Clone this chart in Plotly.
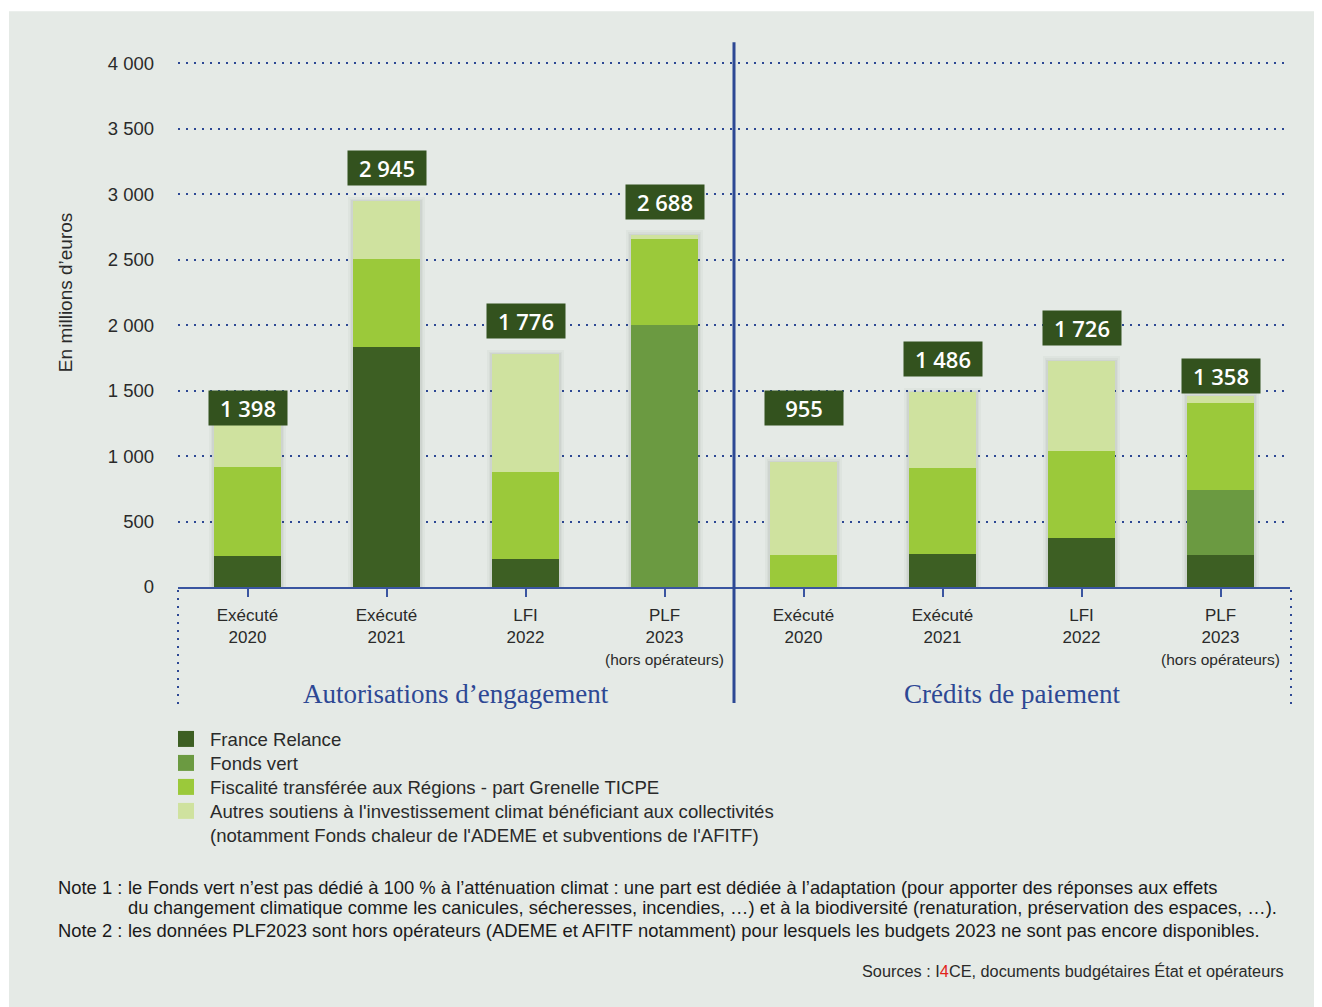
import plotly.graph_objects as go

# the page body adds an 8px margin, so the figure is drawn 8px in from the top-left
OFF = 8
W, H = 1322 - OFF, 1007 - OFF
# plot area in reference pixels
L, R, B = 178, 1290, 587
Y_TOP = 4040
T = B - 524 * Y_TOP / 4000

BG = "#e5eae6"
BLUE = "#2d4894"
TEXT = "#2a2a2a"

groups = ["Autorisations d’engagement", "Crédits de paiement"]
periods = ["Exécuté<br>2020", "Exécuté<br>2021", "LFI<br>2022", "PLF<br>2023<br>(hors opérateurs)"]

series_names = [
    "France Relance",
    "Fonds vert",
    "Fiscalité transférée aux Régions - part Grenelle TICPE",
    "Autres soutiens à l'investissement climat bénéficiant aux collectivités<br>"
    "(notamment Fonds chaleur de l'ADEME et subventions de l'AFITF)",
]
series_colors = ["#3d5f23", "#6b9a41", "#9bc93a", "#cfe29f"]

# values in millions of euros, AE x4 then CP x4
france_relance = [236, 1832, 211, 0, 0, 254, 378, 246]
fonds_vert = [0, 0, 0, 2000, 0, 0, 0, 495]
fiscalite = [683, 670, 670, 660, 246, 655, 660, 662]
autres = [479, 443, 895, 28, 709, 577, 688, 55]
totals = [1398, 2945, 1776, 2688, 955, 1486, 1726, 1358]

notes = [
    ("Note 1 :", ["le Fonds vert n’est pas dédié à 100 % à l’atténuation climat : une part est dédiée à "
                  "l’adaptation (pour apporter des réponses aux effets",
                  "du changement climatique comme les canicules, sécheresses, incendies, …) et à la "
                  "biodiversité (renaturation, préservation des espaces, …)."]),
    ("Note 2 :", ["les données PLF2023 sont hors opérateurs (ADEME et AFITF notamment) pour lesquels "
                  "les budgets 2023 ne sont pas encore disponibles."]),
]


def fx(px):
    return (px - L) / (R - L)


def fy(py):
    return (B - py) / (B - T)


x_pos = list(range(len(totals)))
ticktext = [p.replace("(hors opérateurs)", "<span style='font-size:15.5px'>(hors opérateurs)</span>")
            for p in periods * len(groups)]
segments = [france_relance, fonds_vert, fiscalite, autres]
stack_tops = [sum(v) for v in zip(*segments)]

fig = go.Figure()
# soft shadow behind each stack (base set -> overlaid, not stacked)
for w, extra, a in [(0.56, 35, 0.03), (0.53, 22, 0.04), (0.505, 10, 0.05)]:
    fig.add_trace(go.Bar(
        x=x_pos, y=[t + extra for t in stack_tops], base=[0] * len(x_pos), width=w,
        marker_color=f"rgba(40,50,40,{a})", marker_line_width=0,
        showlegend=False, hoverinfo="skip"
    ))
for name, color, vals in zip(series_names, series_colors, segments):
    fig.add_trace(go.Bar(
        x=x_pos, y=vals, name=name, marker_color=color,
        marker_line_width=0, width=0.48, showlegend=False, xaxis="x2", yaxis="y2"
    ))

# value boxes above bars
shifts = {0: -4, 4: 54}
for i, tot in enumerate(totals):
    fig.add_annotation(
        x=i, y=tot, xref="x", yref="y", yshift=shifts.get(i, 33),
        text=f"{tot:,}".replace(",", " "), showarrow=False,
        font=dict(family="Open Sans", size=22, color="white", weight=600),
        bgcolor="#33521e", width=72, height=28, borderpad=3
    )

# group titles
for gi, g in enumerate(groups):
    fig.add_annotation(
        x=gi * 4 + 1.5, y=fy(694), xref="x", yref="paper", text=g, showarrow=False,
        font=dict(family="Liberation Serif", size=27, color=BLUE), yanchor="middle"
    )

# y axis title
fig.add_annotation(
    x=fx(65), y=fy(292), xref="paper", yref="paper", text="En millions d’euros",
    textangle=-90, showarrow=False, xanchor="center", yanchor="middle",
    font=dict(family="Liberation Sans", size=19, color=TEXT)
)

# legend
for k, (name, color) in enumerate(zip(series_names, series_colors)):
    cy = 739 + 24 * k
    fig.add_shape(type="rect", xref="paper", yref="paper",
                  x0=fx(178), x1=fx(194), y0=fy(cy - 8), y1=fy(cy + 8),
                  fillcolor=color, line_width=0)
    fig.add_annotation(
        x=fx(208), y=fy(cy - 12), xref="paper", yref="paper", text=name, showarrow=False,
        xanchor="left", yanchor="top", align="left",
        font=dict(family="Liberation Sans", size=18.6, color=TEXT)
    )

# notes
note_font = dict(family="Liberation Sans", size=18.4, color="#1a1a1a")
line_y = iter([888, 908, 931])
for label, lines in notes:
    for j, line in enumerate(lines):
        cy = next(line_y)
        if j == 0:
            fig.add_annotation(x=fx(56), y=fy(cy), xref="paper", yref="paper", text=label,
                               showarrow=False, xanchor="left", yanchor="middle", font=note_font)
        fig.add_annotation(x=fx(126), y=fy(cy), xref="paper", yref="paper", text=line,
                           showarrow=False, xanchor="left", yanchor="middle", font=note_font)

fig.add_annotation(
    x=fx(1286), y=fy(971), xref="paper", yref="paper", showarrow=False,
    xanchor="right", yanchor="middle",
    text="Sources : I<span style='color:#e2231a'>4</span>CE, documents budgétaires État et opérateurs",
    font=dict(family="Liberation Sans", size=16.3, color=TEXT)
)

# divider between AE and CP, and dotted side frames
fig.add_shape(type="line", xref="x", yref="paper", x0=3.5, x1=3.5, y0=fy(703), y1=fy(42),
              line=dict(color=BLUE, width=3))
for px in (178, 1291):
    fig.add_shape(type="line", xref="paper", yref="paper", x0=fx(px), x1=fx(px),
                  y0=fy(590), y1=fy(705), line=dict(color=BLUE, width=2, dash="2px,6px"))

# white page edges (left 9px, top 11px in the reference)
fig.add_shape(type="rect", xref="paper", yref="paper", x0=fx(OFF - 2), x1=fx(9), y0=fy(OFF - 2),
              y1=fy(1010), fillcolor="white", line_width=0)
fig.add_shape(type="rect", xref="paper", yref="paper", x0=fx(OFF - 2), x1=fx(1325), y0=fy(OFF - 2),
              y1=fy(11), fillcolor="white", line_width=0)

axis_x = dict(range=[-0.5, 7.5], tickvals=x_pos, showgrid=False, zeroline=False)
axis_y = dict(range=[0, Y_TOP], zeroline=False)
fig.update_layout(
    xaxis=dict(
        **axis_x, ticktext=ticktext,
        showline=True, linecolor="#3a55a0", linewidth=1.5,
        ticks="outside", ticklen=8, tickcolor="#3a55a0", tickwidth=1.5,
        ticklabelstandoff=4,
        tickfont=dict(family="Liberation Sans", size=17, color=TEXT)
    ),
    yaxis=dict(
        **axis_y, tickvals=list(range(0, 4001, 500)), tickformat=",",
        showgrid=True, gridcolor=BLUE, gridwidth=2, griddash="2px,6px",
        ticklabelstandoff=23,
        tickfont=dict(family="Liberation Sans", size=18.5, color=TEXT)
    ),
    xaxis2=dict(**axis_x, overlaying="x", showticklabels=False),
    yaxis2=dict(**axis_y, overlaying="y", showticklabels=False, showgrid=False),
)

fig.update_layout(
    width=W, height=H, autosize=False,
    margin=dict(l=L - OFF, r=1322 - R, t=T - OFF, b=H + OFF - B),
    barmode="stack", bargap=0,
    paper_bgcolor=BG, plot_bgcolor=BG,
    separators=", ",
    showlegend=False
)

fig.write_html("out.html")
